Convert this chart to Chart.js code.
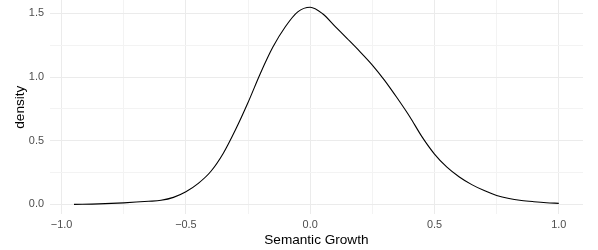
<!DOCTYPE html>
<html>
<head>
<meta charset="utf-8">
<script src="https://cdn.jsdelivr.net/npm/chart.js@4"></script>
<style>
  html, body { margin: 0; padding: 0; background: #fff; }
  #wrap { width: 598px; height: 250px; }
</style>
</head>
<body>
<div id="wrap"><canvas id="densityChart" width="598" height="250"></canvas></div>
<script>
// density curve
const growth = [-0.95, -0.85, -0.75, -0.65, -0.60, -0.55, -0.50, -0.45, -0.40, -0.35,
  -0.30, -0.25, -0.20, -0.15, -0.10, -0.05, 0.00, 0.05, 0.10, 0.15,
  0.20, 0.25, 0.30, 0.35, 0.40, 0.45, 0.50, 0.55, 0.60, 0.65,
  0.70, 0.75, 0.80, 0.85, 0.90, 0.95, 1.00];
const density = [0.000, 0.004, 0.012, 0.024, 0.032, 0.055, 0.099, 0.165, 0.258, 0.400,
  0.588, 0.800, 1.030, 1.235, 1.395, 1.512, 1.548, 1.497, 1.398, 1.300,
  1.200, 1.094, 0.972, 0.835, 0.690, 0.530, 0.395, 0.292, 0.215, 0.155,
  0.108, 0.070, 0.046, 0.031, 0.021, 0.013, 0.008];

const xTicks = [-1.0, -0.75, -0.5, -0.25, 0.0, 0.25, 0.5, 0.75, 1.0];
const yTicks = [0.0, 0.25, 0.5, 0.75, 1.0, 1.25, 1.5];

const fontFamily = "'Liberation Sans', Arial, Helvetica, sans-serif";

function isMajor(v) {
  return Math.abs(v * 2 - Math.round(v * 2)) < 1e-6;
}

document.addEventListener("DOMContentLoaded", function () {
  const ctx = document.getElementById("densityChart").getContext("2d");
  new Chart(ctx, {
    type: "line",
    data: {
      datasets: [
        {
          label: "density",
          data: growth.map((x, i) => ({ x: x, y: density[i] })),
          borderColor: "#000000",
          borderWidth: 1.1,
          pointRadius: 0,
          fill: false,
          cubicInterpolationMode: "monotone",
        },
      ],
    },
    options: {
      responsive: false,
      animation: false,
      layout: { padding: { top: 0, right: 15, bottom: 0, left: 0 } },
      plugins: { legend: { display: false }, tooltip: { enabled: false } },
      scales: {
        x: {
          type: "linear",
          min: -1.0474,
          max: 1.0974,
          afterBuildTicks: (s) => { s.ticks = xTicks.map((v) => ({ value: v })); },
          afterFit: (s) => { s.height = 35.7; s.paddingLeft = 0; s.paddingRight = 0; },
          border: { display: false },
          grid: {
            drawTicks: false,
            color: (c) => (isMajor(c.tick.value) ? "#EBEBEB" : "#F3F3F3"),
            lineWidth: 1,
          },
          ticks: {
            padding: 4,
            color: "#4D4D4D",
            font: { family: fontFamily, size: 10.9 },
            maxRotation: 0,
            autoSkip: false,
            callback: (v) => (isMajor(v) ? (v < 0 ? "\u2212" + Math.abs(v).toFixed(1) : v.toFixed(1)) : ""),
          },
          title: {
            display: true,
            text: "Semantic Growth",
            color: "#000000",
            font: { family: fontFamily, size: 13.6 },
            padding: { top: 0, bottom: 1.8 },
          },
        },
        y: {
          type: "linear",
          min: -0.078,
          max: 1.605,
          afterBuildTicks: (s) => { s.ticks = yTicks.map((v) => ({ value: v })); },
          afterFit: (s) => { s.width = 49.8; s.paddingTop = 0; s.paddingBottom = 0; },
          border: { display: false },
          grid: {
            drawTicks: false,
            color: (c) => (isMajor(c.tick.value) ? "#EBEBEB" : "#F3F3F3"),
            lineWidth: 1,
          },
          ticks: {
            padding: 5.8,
            color: "#4D4D4D",
            font: { family: fontFamily, size: 10.9 },
            autoSkip: false,
            callback: (v) => (isMajor(v) ? v.toFixed(1) : ""),
          },
          title: {
            display: true,
            text: "density",
            color: "#000000",
            font: { family: fontFamily, size: 13.6 },
            padding: { top: 12, bottom: 0 },
          },
        },
      },
    },
  });
});
</script>
</body>
</html>
